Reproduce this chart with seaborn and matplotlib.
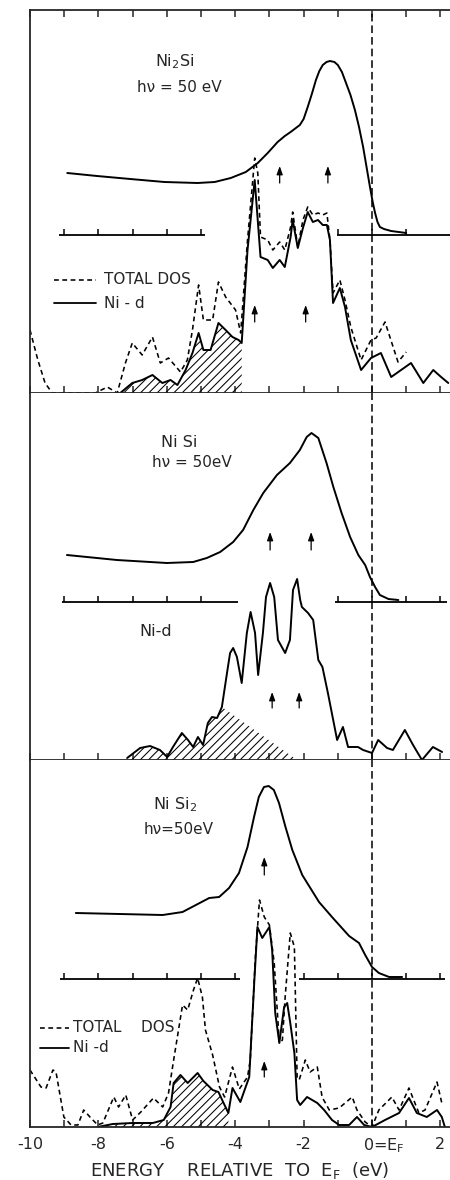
import numpy as np
import matplotlib
matplotlib.use("Agg")
import matplotlib.pyplot as plt
from matplotlib.transforms import ScaledTranslation
import seaborn as sns

# ---------------- data (energy in eV relative to E_F, intensity in arbitrary units) ----------------
# Ni2Si panel
NI2SI_EDC_E = [-8.91, -8.04, -7.07, -6.07, -5.10, -4.60, -4.13, -3.69, -3.34, -3.05, -2.76, -2.55,
               -2.38, -2.11, -2.00, -1.88, -1.76, -1.64, -1.54, -1.44, -1.33, -1.23, -1.10, -1.00,
               -0.88, -0.76, -0.63, -0.50, -0.38, -0.26, -0.16, -0.06, 0.02, 0.09, 0.16, 0.23,
               0.35, 0.56, 1.00]
NI2SI_EDC_I = [62, 59, 56, 53, 52, 53, 57, 63, 72, 82, 93, 99,
               103, 110, 116, 128, 141, 155, 164, 170, 173, 174, 173, 170,
               163, 152, 140, 125, 108, 88, 68, 48, 33, 22, 13, 8,
               6, 4, 2]
NI2SI_TOT_E = [-10.0, -9.77, -9.56, -9.35, -8.09, -7.74, -7.45, -7.21, -7.01, -6.72, -6.42, -6.19, -5.95,
               -5.60, -5.40, -5.25, -5.07, -4.93, -4.66, -4.49, -4.28, -3.99, -3.84, -3.64, -3.43, -3.34,
               -3.26, -3.05, -2.90, -2.70, -2.55, -2.38, -2.32, -2.17, -2.02, -1.88, -1.73, -1.58, -1.44,
               -1.32, -1.23, -1.14, -0.94, -0.79, -0.62, -0.32, -0.03, 0.12, 0.38, 0.76, 1.00]
NI2SI_TOT_D = [63, 33, 10, 0, 0, 6, 0, 30, 50, 38, 56, 30, 35,
               21, 33, 63, 108, 73, 73, 111, 96, 83, 60, 153, 235, 220,
               156, 153, 143, 151, 143, 166, 181, 146, 173, 186, 178, 180, 178,
               180, 153, 100, 113, 93, 66, 33, 53, 55, 71, 31, 41]
NI2SI_D_E = [-7.36, -7.01, -6.72, -6.42, -6.13, -5.89, -5.69, -5.45, -5.25, -5.07, -4.93, -4.72,
             -4.49, -4.28, -4.08, -3.90, -3.81, -3.64, -3.43, -3.26, -3.05, -2.90, -2.70, -2.55,
             -2.38, -2.32, -2.17, -2.02, -1.88, -1.73, -1.58, -1.44, -1.32, -1.23, -1.14, -0.94,
             -0.79, -0.62, -0.32, -0.03, 0.26, 0.56, 1.14, 1.50, 1.79, 2.02, 2.23]
NI2SI_D_D = [0, 10, 13, 18, 10, 13, 8, 23, 40, 60, 43, 43,
             70, 63, 56, 53, 50, 143, 213, 136, 133, 125, 133, 126,
             156, 173, 145, 165, 181, 171, 173, 168, 168, 153, 90, 105,
             86, 53, 23, 35, 40, 16, 30, 10, 23, 16, 10]
NI2SI_HATCH = (-7.36, -3.81)
NI2SI_EDC_ARROWS = [-2.70, -1.29]
NI2SI_DOS_ARROWS = [-3.43, -1.94]

# NiSi panel
NISI_EDC_E = [-8.92, -7.46, -6.00, -5.23, -4.83, -4.44, -4.06, -3.77, -3.47, -3.18, -2.78, -2.40,
              -2.11, -1.91, -1.77, -1.57, -1.33, -1.13, -0.89, -0.64, -0.40, -0.20, -0.06, 0.09,
              0.23, 0.48, 0.77]
NISI_EDC_I = [47, 42, 39, 40, 44, 50, 60, 72, 92, 109, 127, 139,
              152, 165, 169, 164, 139, 115, 89, 65, 47, 37, 25, 15,
              7, 3, 2]
NISI_D_E = [-7.16, -6.78, -6.49, -6.20, -5.99, -5.82, -5.56, -5.38, -5.23, -5.09, -4.94, -4.80, -4.68,
            -4.53, -4.39, -4.24, -4.15, -4.06, -3.95, -3.81, -3.66, -3.55, -3.42, -3.33, -3.19, -3.10,
            -2.98, -2.86, -2.75, -2.54, -2.40, -2.31, -2.19, -2.10, -2.05, -1.87, -1.72, -1.57, -1.45,
            -1.29, -1.02, -0.85, -0.70, -0.41, -0.26, 0.00, 0.18, 0.44, 0.61, 0.96, 1.20, 1.46, 1.78, 2.05]
NISI_D_D = [2, 12, 14, 10, 3, 13, 27, 20, 13, 23, 15, 37, 43,
            42, 53, 87, 107, 112, 103, 77, 127, 148, 127, 85, 127, 163,
            177, 163, 120, 107, 120, 170, 181, 160, 153, 147, 140, 100, 93,
            67, 20, 33, 13, 13, 10, 7, 20, 12, 10, 30, 15, 0, 13, 8]
NISI_HATCH = (-7.16, -4.39)
NISI_HATCH_TAIL_END = -2.19
NISI_EDC_ARROWS = [-2.98, -1.78]
NISI_DOS_ARROWS = [-2.92, -2.13]

# NiSi2 panel
NISI2_EDC_E = [-8.66, -7.38, -6.12, -5.54, -5.15, -4.76, -4.47, -4.18, -3.89, -3.64, -3.45, -3.31,
               -3.16, -3.02, -2.87, -2.72, -2.53, -2.33, -2.04, -1.55, -1.17, -0.67, -0.38, -0.20,
               0.00, 0.20, 0.50, 0.88]
NISI2_EDC_I = [66, 65, 64, 67, 74, 81, 82, 91, 106, 132, 162, 182,
               192, 193, 189, 176, 152, 129, 104, 77, 62, 43, 36, 24,
               12, 6, 2, 2]
NISI2_TOT_E = [-10.0, -9.68, -9.53, -9.33, -9.24, -9.01, -8.80, -8.60, -8.43, -8.22, -8.02, -7.87, -7.55,
               -7.41, -7.20, -7.00, -6.76, -6.39, -6.12, -5.95, -5.80, -5.54, -5.39, -5.22, -5.10, -4.96,
               -4.87, -4.66, -4.46, -4.31, -4.08, -3.88, -3.64, -3.56, -3.41, -3.29, -3.15, -3.00, -2.86,
               -2.71, -2.62, -2.54, -2.39, -2.27, -2.19, -2.13, -1.95, -1.81, -1.60, -1.46, -1.25, -0.96,
               -0.58, -0.44, -0.20, 0.00, 0.20, 0.58, 0.79, 1.08, 1.37, 1.55, 1.90, 2.04]
NISI2_TOT_D = [57, 40, 39, 57, 55, 10, 2, 2, 17, 9, 2, 4, 30,
               20, 32, 7, 15, 29, 20, 34, 67, 122, 117, 137, 149, 130,
               97, 72, 40, 30, 60, 38, 50, 67, 170, 227, 210, 202, 164,
               84, 87, 130, 194, 180, 50, 47, 67, 55, 60, 30, 17, 19,
               30, 17, 5, 0, 17, 30, 17, 39, 14, 17, 45, 24]
NISI2_D_E = [-8.02, -7.58, -7.00, -6.41, -6.09, -5.89, -5.80, -5.60, -5.39, -5.10, -4.93, -4.66,
             -4.49, -4.34, -4.20, -4.08, -3.85, -3.59, -3.44, -3.35, -3.21, -3.00, -2.92, -2.83,
             -2.71, -2.57, -2.48, -2.39, -2.27, -2.19, -2.10, -1.90, -1.60, -1.40, -1.17, -0.96,
             -0.67, -0.44, -0.23, 0.00, 0.38, 0.79, 1.08, 1.31, 1.60, 1.90, 2.04, 2.13]
NISI2_D_D = [0, 3, 4, 4, 7, 20, 44, 52, 44, 54, 46, 37,
             35, 24, 14, 39, 25, 50, 147, 200, 189, 200, 177, 114,
             84, 120, 124, 104, 74, 27, 22, 30, 24, 17, 7, 2,
             2, 10, 2, 0, 7, 14, 29, 14, 10, 17, 10, 0]
NISI2_HATCH = (-8.02, -4.20)
NISI2_EDC_ARROWS = [-3.15]
NISI2_DOS_ARROWS = [-3.15]

# axis ticks / labels
ENERGY_TICKS = list(range(-10, 3))
TICK_LABELS = ['-10', '', '-8', '', '-6', '', '-4', '', '-2', '', '0=E$_F$', '', '2']

# ---------------- style / layout ----------------
sns.set_style("ticks")
plt.rcParams['font.family'] = ['DejaVu Sans']
plt.rcParams['mathtext.default'] = 'regular'
plt.rcParams['hatch.linewidth'] = 0.75

W, H = 450, 1180
fig = plt.figure(figsize=(W / 100, H / 100), dpi=100)
XMIN, XMAX = -10.0, 2.28
LW = 1.4
DASH = (0, (3.0, 2.2))


def add_ax(top, bottom):
    return fig.add_axes([30 / W, 1 - bottom / H, 420 / W, (bottom - top) / H])


def setup(ax, ymax, top_spine, labels):
    ax.set_xlim(XMIN, XMAX)
    ax.set_ylim(0, ymax)
    ax.set_yticks([])
    ax.set_xticks(ENERGY_TICKS)
    ax.tick_params(axis='x', direction='in', length=5, width=1.1, top=top_spine,
                   bottom=True, pad=7, labelsize=11.5)
    for s in ['left', 'bottom', 'top']:
        ax.spines[s].set_linewidth(1.3)
    ax.spines['right'].set_visible(False)
    ax.spines['top'].set_visible(top_spine)
    if labels:
        ax.set_xticklabels(TICK_LABELS)
        lbl = ax.get_xticklabels()[10]
        lbl.set_ha('left')
        lbl.set_transform(lbl.get_transform() + ScaledTranslation(-0.09, 0, fig.dpi_scale_trans))
    else:
        ax.set_xticklabels([])
    ax.axvline(0, color='k', lw=1.1, ls=(0, (5, 2.6)))
    ax.set_xlabel('')
    ax.set_ylabel('')


def curve(ax, x, y, dashed=False):
    kw = dict(color='k', lw=LW if not dashed else 1.15)
    if dashed:
        kw['linestyle'] = DASH
    sns.lineplot(x=np.asarray(x, float), y=np.asarray(y, float), ax=ax, sort=False,
                 estimator=None, errorbar=None, legend=False, **kw)


def baseline(ax, off, segs, ticks):
    for a, b in segs:
        ax.plot([a, b], [off, off], color='k', lw=1.3, solid_capstyle='butt')
    ax.vlines(ticks, off, off + 6, color='k', lw=1.1)


def arrows(ax, xs, y0, y1):
    for x in xs:
        ax.annotate('', xy=(x, y1), xytext=(x, y0),
                    arrowprops=dict(arrowstyle='-|>,head_length=0.5,head_width=0.18',
                                    color='k', lw=0.9, shrinkA=0, shrinkB=0))


def hatch(ax, x, y):
    ax.fill_between(x, 0, y, facecolor='none', edgecolor='k', linewidth=0,
                    hatch='////')


def subset(E, D, lo, hi):
    E = np.asarray(E, float)
    D = np.asarray(D, float)
    m = (E >= lo - 1e-9) & (E <= hi + 1e-9)
    return E[m], D[m]


ax_t = add_ax(10, 393)
ax_m = add_ax(393, 760)
ax_b = add_ax(760, 1127)
setup(ax_t, 383, True, False)
setup(ax_m, 367, False, False)
setup(ax_b, 367, False, True)

# ---- Ni2Si ----
off = 158
baseline(ax_t, off, [(-9.15, -4.87), (-1.03, 2.28)], [-9, -8, -7, -6, -5, -1, 0, 1])
curve(ax_t, NI2SI_EDC_E, np.array(NI2SI_EDC_I) + off)
curve(ax_t, NI2SI_TOT_E, NI2SI_TOT_D, dashed=True)
curve(ax_t, NI2SI_D_E, NI2SI_D_D)
hatch(ax_t, *subset(NI2SI_D_E, NI2SI_D_D, *NI2SI_HATCH))
arrows(ax_t, NI2SI_EDC_ARROWS, 210, 227)
arrows(ax_t, NI2SI_DOS_ARROWS, 71, 88)
ax_t.text(-5.78, 331, 'Ni$_2$Si', ha='center', va='center', fontsize=11.5)
ax_t.text(-5.63, 305, 'hν = 50 eV', ha='center', va='center', fontsize=11)
ax_t.plot([-9.3, -8.07], [113, 113], color='k', lw=1.15, linestyle=DASH)
ax_t.plot([-9.3, -8.07], [90, 90], color='k', lw=1.3)
ax_t.text(-7.85, 113, 'TOTAL DOS', ha='left', va='center', fontsize=11)
ax_t.text(-7.85, 90, 'Ni - d', ha='left', va='center', fontsize=11)

# ---- NiSi ----
off = 158
baseline(ax_m, off, [(-9.06, -3.92), (-1.08, 2.19)], [-9, -8, -7, -6, -5, -1, 0, 1, 2])
curve(ax_m, NISI_EDC_E, np.array(NISI_EDC_I) + off)
curve(ax_m, NISI_D_E, NISI_D_D)
hx, hy = subset(NISI_D_E, NISI_D_D, *NISI_HATCH)
hatch(ax_m, np.append(hx, NISI_HATCH_TAIL_END), np.append(hy, 0))
arrows(ax_m, NISI_EDC_ARROWS, 210, 228)
arrows(ax_m, NISI_DOS_ARROWS, 52, 68)
ax_m.text(-5.64, 317, 'Ni Si', ha='center', va='center', fontsize=11.5)
ax_m.text(-5.26, 297, 'hν = 50eV', ha='center', va='center', fontsize=11)
ax_m.text(-6.32, 128, 'Ni-d', ha='center', va='center', fontsize=11.5)

# ---- NiSi2 ----
off = 148
baseline(ax_b, off, [(-9.13, -3.85), (-2.13, 2.13)], [-9, -8, -7, -6, -5, -4, -2, -1, 0, 1, 2])
curve(ax_b, NISI2_EDC_E, np.array(NISI2_EDC_I) + off)
curve(ax_b, NISI2_TOT_E, NISI2_TOT_D, dashed=True)
curve(ax_b, NISI2_D_E, NISI2_D_D)
hatch(ax_b, *subset(NISI2_D_E, NISI2_D_D, *NISI2_HATCH))
arrows(ax_b, NISI2_EDC_ARROWS, 252, 270)
arrows(ax_b, NISI2_DOS_ARROWS, 50, 66)
ax_b.text(-5.77, 322, 'Ni Si$_2$', ha='center', va='center', fontsize=11.5)
ax_b.text(-5.66, 297, 'hν=50eV', ha='center', va='center', fontsize=11)
ax_b.plot([-9.71, -8.85], [99, 99], color='k', lw=1.15, linestyle=DASH)
ax_b.plot([-9.71, -8.85], [79, 79], color='k', lw=1.3)
ax_b.text(-8.75, 99, 'TOTAL    DOS', ha='left', va='center', fontsize=11)
ax_b.text(-8.75, 79, 'Ni -d', ha='left', va='center', fontsize=11)

ax_b.set_xlabel('ENERGY    RELATIVE  TO  E$_F$  (eV)', fontsize=13, labelpad=3)

fig.savefig('out.png', dpi=100)
